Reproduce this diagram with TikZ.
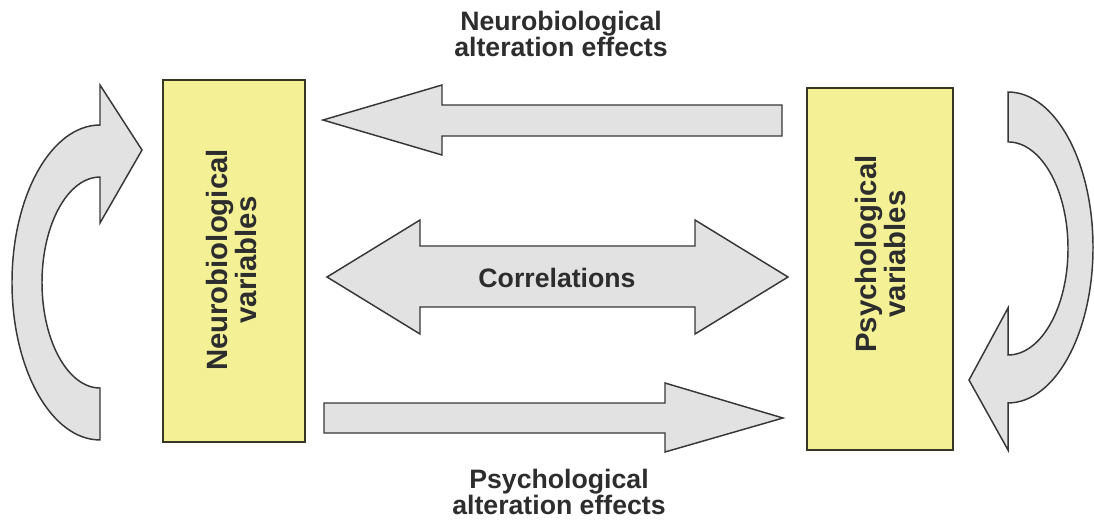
\documentclass[tikz,border=0pt]{standalone}
\usepackage{fontspec}
\setmainfont{Liberation Sans}
\definecolor{boxfill}{RGB}{243,240,150}
\definecolor{boxline}{RGB}{55,55,35}
\definecolor{arrowfill}{RGB}{226,226,226}
\definecolor{arrowline}{RGB}{55,55,55}
\definecolor{textgray}{RGB}{45,45,45}

\begin{document}
\begin{tikzpicture}[x=0.75pt,y=-0.75pt,
  varbox/.style={draw=boxline,fill=boxfill,line width=1.5pt,minimum width=#1,minimum height=271.5pt},
  blockarrow/.style={draw=arrowline,fill=arrowfill,line width=1.1pt,line join=miter},
  lbl/.style={text=textgray,font=\bfseries\fontsize{20}{19.5}\selectfont,align=center},
  vlbl/.style={text=textgray,font=\bfseries\fontsize{22}{21.75}\selectfont,align=center,rotate=90}]
\useasboundingbox (0,0) rectangle (1094,526);
\node[varbox=106.5pt] (nbox) at (234,261) {};
\node[varbox=109.5pt] (pbox) at (880,269) {};
\node[vlbl] (ntext) at (232,260) {Neurobiological\\variables};
\node[vlbl] (ptext) at (880,254) {Psychological\\variables};
\draw[blockarrow] (782,105) -- (442,105) -- (442,85) -- (323,120) -- (442,155) -- (442,136) -- (782,136) -- cycle;
\draw[blockarrow] (324,403) -- (665,403) -- (665,383) -- (783,418) -- (665,452) -- (665,433) -- (324,433) -- cycle;
\draw[blockarrow] (327,277) -- (420,220) -- (420,246) -- (695,246) -- (695,220) -- (788,277) -- (695,334) -- (695,307) -- (420,307) -- (420,334) -- cycle;
\draw[blockarrow] (100,125) arc[start angle=90,end angle=270,x radius=66pt,y radius=118.1pt] -- (100,388)
  arc[start angle=270,end angle=90,x radius=43.5pt,y radius=79.1pt] -- (100,223) -- (142,150) -- (100,85) -- cycle;
\draw[blockarrow] (1008,92) arc[start angle=90,end angle=-90,x radius=63.75pt,y radius=116.6pt] -- (1008,450) -- (969,380) -- (1008,308) -- (1008,355)
  arc[start angle=-90,end angle=90,x radius=45pt,y radius=79.9pt] -- cycle;
\node[lbl] (corr) at (557,278) {Correlations};
\node[lbl] (toplbl) at (561,34) {Neurobiological\\alteration effects};
\node[lbl] (botlbl) at (559,492) {Psychological\\alteration effects};
\end{tikzpicture}
\end{document}
